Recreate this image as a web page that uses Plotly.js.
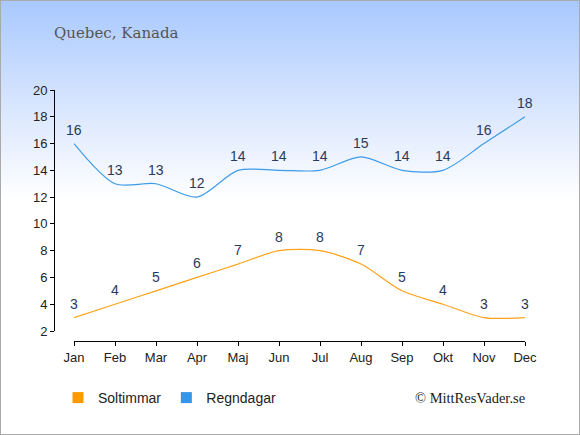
<!DOCTYPE html>
<html>
<head>
<meta charset="utf-8">
<script src="https://cdn.plot.ly/plotly-3.0.1.min.js"></script>
<style>
html,body{margin:0;padding:0;}
#wrap{width:578px;height:433px;border:1px solid #aaaaaa;background:linear-gradient(to bottom,#a8c9fe 0px,#dfeafe 120px,#ffffff 200px,#ffffff 433px);position:relative;}
#chart{width:578px;height:433px;}
</style>
</head>
<body>
<div id="wrap"><div id="chart"></div></div>
<script>
var months = ["Jan","Feb","Mar","Apr","Maj","Jun","Jul","Aug","Sep","Okt","Nov","Dec"];
var soltimmar = [3,4,5,6,7,8,8,7,5,4,3,3];
var regndagar = [16,13,13,12,14,14,14,15,14,14,16,18];
var yTicks = [2,4,6,8,10,12,14,16,18,20];

var sunColor = "#ffa31a", rainColor = "#3d9bea";
var labelFont = {family:"Liberation Sans, Arial, sans-serif", size:14, color:"#2a3a5a"};
var tickFont = {family:"Liberation Sans, Arial, sans-serif", size:13, color:"#222"};

var traces = [
  {x:months, y:soltimmar, name:"Soltimmar", mode:"lines", showlegend:false,
   line:{color:sunColor, width:1.2, shape:"spline", smoothing:0.8}},
  {x:months, y:regndagar, name:"Regndagar", mode:"lines", showlegend:false,
   line:{color:rainColor, width:1.2, shape:"spline", smoothing:0.8}},
  {x:[null], y:[null], name:"Soltimmar", mode:"markers", showlegend:true,
   marker:{symbol:"square", size:11, color:"#ff9a00"}},
  {x:[null], y:[null], name:"Regndagar", mode:"markers", showlegend:true,
   marker:{symbol:"square", size:11, color:"#3396ea"}}
];

var annotations = [];
[soltimmar, regndagar].forEach(function(series){
  series.forEach(function(v, i){
    annotations.push({x:months[i], y:v, xref:"x", yref:"y", text:String(v), showarrow:false,
      yanchor:"middle", xanchor:"center", yshift:14, font:labelFont});
  });
});

var W = 578, ml = 53, mr = 54;
var pw = W - ml - mr;
annotations.push({text:"Quebec, Kanada", xref:"paper", yref:"paper", x:-2/pw, y:1+57/251, xanchor:"left", yanchor:"middle",
     showarrow:false, font:{family:"DejaVu Serif, Liberation Serif, serif", size:15, color:"#555"}});
annotations.push({text:"© MittResVader.se", xref:"paper", yref:"paper", x:1+2/pw, y:-57/251, xanchor:"right", yanchor:"middle",
     showarrow:false, font:{family:"Liberation Serif, serif", size:14.5, color:"#222"}});

var layout = {
  width:578, height:433,
  paper_bgcolor:"rgba(0,0,0,0)", plot_bgcolor:"rgba(0,0,0,0)",
  margin:{l:ml, r:mr, t:89, b:93},
  showlegend:true,
  legend:{orientation:"h", x:4/pw, xanchor:"left", y:-57/251, yanchor:"middle",
          font:{family:"Liberation Sans, Arial, sans-serif", size:14, color:"#222"},
          bgcolor:"rgba(0,0,0,0)"},
  xaxis:{domain:[20/pw,1], range:[0,11], anchor:"free", position:0,
         type:"category", showline:true, linecolor:"#000", linewidth:1,
         ticks:"outside", ticklen:4, tickcolor:"#000", showgrid:false, zeroline:false,
         tickfont:tickFont},
  yaxis:{domain:[10/251,1], range:[2,20], tickvals:yTicks, anchor:"free", position:0,
         showline:true, linecolor:"#000", linewidth:1,
         ticks:"outside", ticklen:4, tickcolor:"#000", showgrid:false, zeroline:false,
         tickfont:tickFont},
  annotations:annotations
};
Plotly.newPlot("chart", traces, layout, {displayModeBar:false, staticPlot:true});
</script>
</body>
</html>
